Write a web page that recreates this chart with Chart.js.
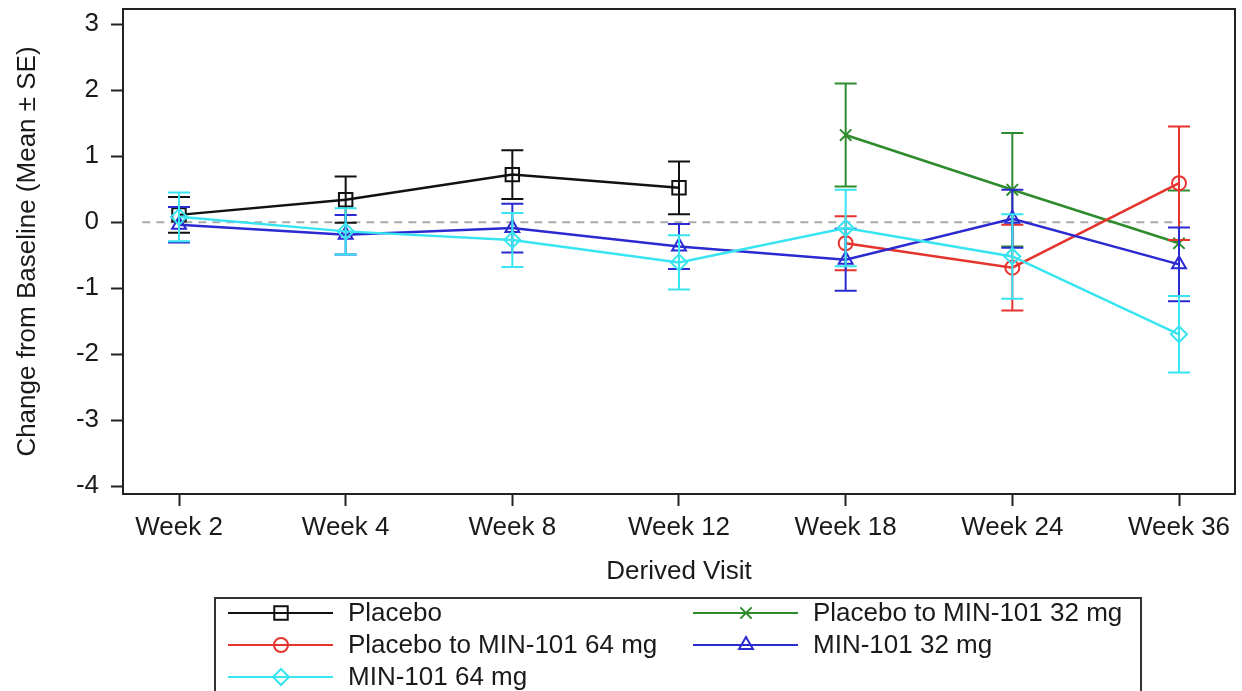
<!DOCTYPE html>
<html>
<head>
<meta charset="utf-8">
<title>Change from Baseline by Visit</title>
<script src="https://cdn.jsdelivr.net/npm/chart.js@4.4.1/dist/chart.umd.min.js"></script>
<style>
  html, body { margin: 0; padding: 0; background: #fff; }
  #wrap { width: 1242px; height: 691px; position: relative; }
</style>
</head>
<body>
<div id="wrap"><canvas id="chart"></canvas></div>
<script>
// Visits and y ticks
const visits = ["Week 2", "Week 4", "Week 8", "Week 12", "Week 18", "Week 24", "Week 36"];
const yTicks = [-4, -3, -2, -1, 0, 1, 2, 3];

const placeboMean = [0.11, 0.34, 0.72, 0.52, null, null, null];
const placeboSE   = [0.27, 0.35, 0.37, 0.40, null, null, null];

const pbo32Mean = [null, null, null, null, 1.32, 0.49, -0.32];
const pbo32SE   = [null, null, null, null, 0.78, 0.86, 0.80];

const pbo64Mean = [null, null, null, null, -0.32, -0.69, 0.59];
const pbo64SE   = [null, null, null, null, 0.41, 0.65, 0.86];

const min32Mean = [-0.04, -0.19, -0.09, -0.37, -0.57, 0.05, -0.64];
const min32SE   = [0.27, 0.30, 0.37, 0.34, 0.47, 0.44, 0.56];

const min64Mean = [0.08, -0.14, -0.27, -0.61, -0.09, -0.52, -1.70];
const min64SE   = [0.37, 0.35, 0.41, 0.41, 0.58, 0.64, 0.58];

const FONT = '"Liberation Sans", Arial, sans-serif';
const TEXT_COLOR = "#1a1a1a";

function toPoints(mean, se) {
  const pts = [];
  mean.forEach((m, i) => {
    if (m !== null) pts.push({ x: i, y: m, se: se[i] });
  });
  return pts;
}

function makeSeries(label, mean, se, color, style, radius, order) {
  return {
    label: label,
    data: toPoints(mean, se),
    borderColor: color,
    backgroundColor: color,
    borderWidth: 2.5,
    pointStyle: style,
    pointRadius: radius,
    pointBorderWidth: 2,
    pointBorderColor: color,
    pointBackgroundColor: "rgba(0,0,0,0)",
    tension: 0,
    order: order
  };
}

const datasets = [
  makeSeries("Placebo", placeboMean, placeboSE, "#111111", "rect", 9.5, 5),
  makeSeries("Placebo to MIN-101 32 mg", pbo32Mean, pbo32SE, "#2e8b2e", "crossRot", 8, 4),
  makeSeries("Placebo to MIN-101 64 mg", pbo64Mean, pbo64SE, "#e5332d", "circle", 7, 3),
  makeSeries("MIN-101 32 mg", min32Mean, min32SE, "#2a2ad0", "triangle", 8, 2),
  makeSeries("MIN-101 64 mg", min64Mean, min64SE, "#38e4f0", "rectRot", 8, 1)
];

// legend layout: column / row of each series
const legendCol = [0, 1, 0, 1, 0];
const legendRow = [0, 0, 1, 1, 2];

// dashed zero line span (in x-axis units)
const REF_FROM = -0.22;
const REF_TO = 6.02;

const frameAndRef = {
  id: "frameAndRef",
  beforeDatasetsDraw(chart) {
    const { ctx, scales } = chart;
    ctx.save();
    ctx.strokeStyle = "#aaaaaa";
    ctx.lineWidth = 2;
    ctx.setLineDash([8, 6]);
    const y0 = scales.y.getPixelForValue(0);
    ctx.beginPath();
    ctx.moveTo(scales.x.getPixelForValue(REF_FROM), y0);
    ctx.lineTo(scales.x.getPixelForValue(REF_TO), y0);
    ctx.stroke();
    ctx.restore();
  },
  afterDraw(chart) {
    const { ctx, chartArea } = chart;
    ctx.save();
    ctx.strokeStyle = "#222";
    ctx.lineWidth = 2;
    ctx.strokeRect(chartArea.left, chartArea.top, chartArea.right - chartArea.left, chartArea.bottom - chartArea.top);
    ctx.restore();
  }
};

const errorBars = {
  id: "errorBars",
  afterDatasetDraw(chart, args) {
    const ds = chart.data.datasets[args.index];
    const { ctx, scales } = chart;
    const cap = 11;
    ctx.save();
    ctx.strokeStyle = ds.borderColor;
    ctx.lineWidth = 2;
    ds.data.forEach(p => {
      const x = scales.x.getPixelForValue(p.x);
      const yt = scales.y.getPixelForValue(p.y + p.se);
      const yb = scales.y.getPixelForValue(p.y - p.se);
      ctx.beginPath();
      ctx.moveTo(x, yt); ctx.lineTo(x, yb);
      ctx.moveTo(x - cap, yt); ctx.lineTo(x + cap, yt);
      ctx.moveTo(x - cap, yb); ctx.lineTo(x + cap, yb);
      ctx.stroke();
    });
    ctx.restore();
  }
};

const boxLegend = {
  id: "boxLegend",
  afterDraw(chart) {
    const ctx = chart.ctx;
    const colX = [228, 693];
    const rowY = [613, 645, 677];
    ctx.save();
    ctx.strokeStyle = "#333";
    ctx.lineWidth = 2;
    ctx.strokeRect(215, 598, 926, 110);
    ctx.font = "26px " + FONT;
    ctx.textBaseline = "middle";
    ctx.fillStyle = TEXT_COLOR;
    chart.data.datasets.forEach((ds, i) => {
      const x0 = colX[legendCol[i]];
      const y = rowY[legendRow[i]];
      ctx.strokeStyle = ds.borderColor;
      ctx.lineWidth = 2;
      ctx.beginPath();
      ctx.moveTo(x0, y); ctx.lineTo(x0 + 105, y);
      ctx.stroke();
      ctx.fillStyle = "rgba(0,0,0,0)";
      if (Chart.helpers && Chart.helpers.drawPoint) {
        Chart.helpers.drawPoint(ctx, { pointStyle: ds.pointStyle, radius: ds.pointRadius, borderWidth: 2, rotation: 0 }, x0 + 53, y);
      } else {
        ctx.beginPath();
        ctx.arc(x0 + 53, y, ds.pointRadius, 0, Math.PI * 2);
        ctx.stroke();
      }
      ctx.fillStyle = TEXT_COLOR;
      ctx.fillText(ds.label, x0 + 120, y + 1);
    });
    ctx.restore();
  }
};

Chart.defaults.font.family = FONT;
Chart.defaults.font.size = 26;
Chart.defaults.color = TEXT_COLOR;

const axisGrid = { display: true, drawOnChartArea: false, drawTicks: true, tickLength: 12, tickWidth: 2, tickColor: "#222" };

new Chart(document.getElementById("chart"), {
  type: "line",
  data: { datasets: datasets },
  options: {
    responsive: true,
    maintainAspectRatio: false,
    animation: false,
    layout: { autoPadding: false, padding: { top: 9, right: 7, bottom: 101, left: 0 } },
    plugins: { legend: { display: false }, tooltip: { enabled: false } },
    scales: {
      x: {
        type: "linear",
        min: -0.336,
        max: 6.336,
        afterBuildTicks: s => { s.ticks = visits.map((_, i) => ({ value: i })); },
        afterFit: s => { s.height = 96; s.paddingLeft = 0; s.paddingRight = 0; },
        ticks: { callback: v => visits[v], padding: 6, maxRotation: 0, autoSkip: false },
        grid: axisGrid,
        border: { display: false },
        title: { display: true, text: "Derived Visit", padding: { top: 0, bottom: 3 } }
      },
      y: {
        min: -4.12,
        max: 3.23,
        afterBuildTicks: s => { s.ticks = yTicks.map(v => ({ value: v })); },
        afterFit: s => { s.width = 123; s.paddingTop = 0; s.paddingBottom = 0; },
        ticks: { callback: v => String(v), padding: 12 },
        grid: axisGrid,
        border: { display: false },
        title: { display: true, text: "Change from Baseline (Mean ± SE)", padding: { top: 12, bottom: 0 } }
      }
    }
  },
  plugins: [frameAndRef, errorBars, boxLegend]
});
</script>
</body>
</html>
